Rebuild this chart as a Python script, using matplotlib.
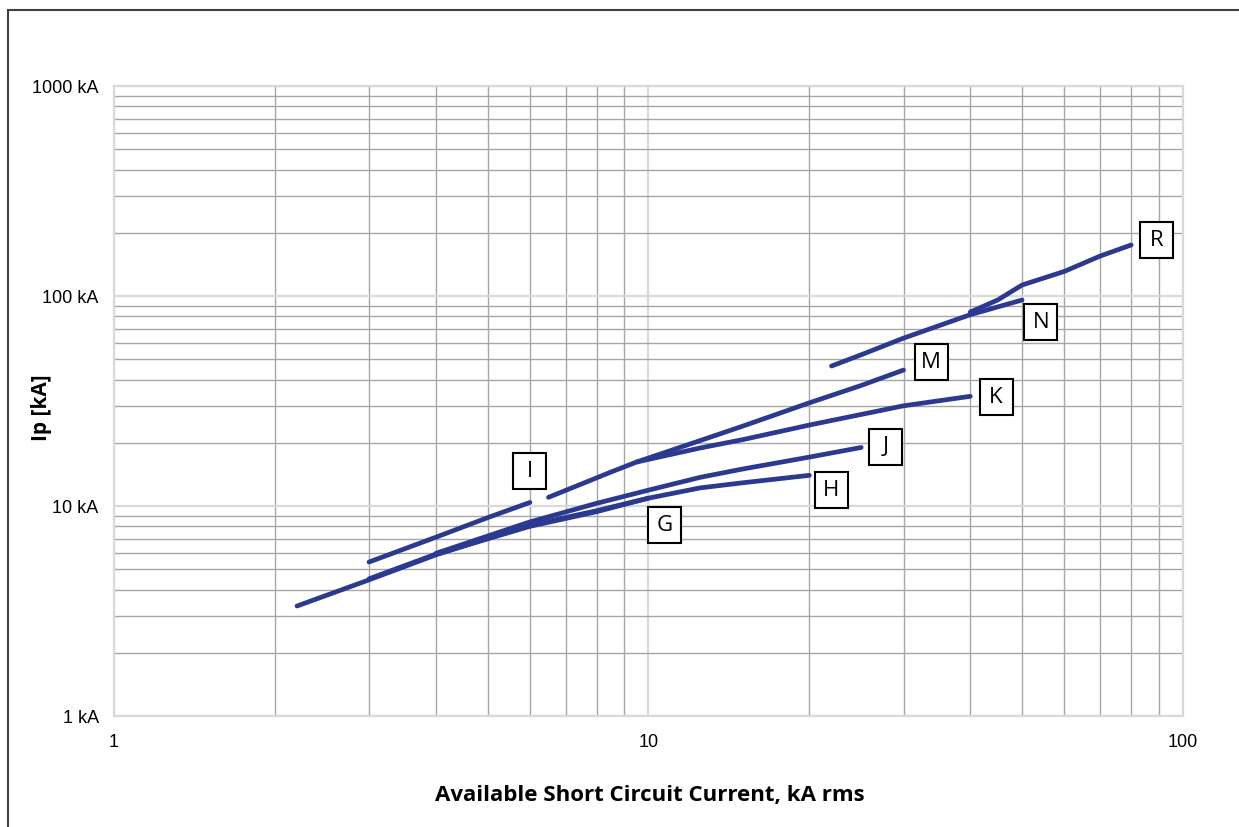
import numpy as np
import matplotlib.pyplot as plt
from matplotlib.patches import Rectangle
from matplotlib.ticker import FixedLocator, NullFormatter

# peak let-through current curves, (available kA rms, Ip kA)
g_x = [2.2, 3, 4, 6, 8, 10]
g_y = [3.34, 4.45, 5.85, 8.1, 9.5, 10.9]
h_x = [3, 4, 6, 8, 10, 12.5, 15, 20]
h_y = [4.5, 5.9, 8.0, 9.4, 10.9, 12.2, 12.9, 14.0]
i_x = [3, 4, 5, 6]
i_y = [5.41, 7.1, 8.8, 10.4]
j_x = [4, 6, 8, 10, 12.5, 15, 20, 25]
j_y = [5.95, 8.4, 10.3, 11.9, 13.7, 15.0, 17.1, 19.0]
k_x = [9.5, 12.5, 15, 20, 30, 40]
k_y = [16.2, 18.9, 20.7, 24.3, 30.0, 33.3]
m_x = [6.5, 8.5, 9.5, 12.5, 15, 20, 25, 30]
m_y = [11.0, 14.5, 16.2, 20.5, 24.0, 31.0, 37.5, 44.4]
n_x = [22, 25, 30, 40, 50]
n_y = [46.4, 52.5, 63.0, 81.5, 95.7]
r_x = [40, 45, 50, 60, 70, 80]
r_y = [83.9, 95.7, 112.8, 131, 155, 175]

curves = [(g_x, g_y), (h_x, h_y), (i_x, i_y), (j_x, j_y),
          (k_x, k_y), (m_x, m_y), (n_x, n_y), (r_x, r_y)]

# where the letter boxes sit (data coords)
label_names = ['I', 'G', 'M', 'K', 'J', 'H', 'N', 'R']
label_pos = [(5.99, 14.6), (10.7, 8.12), (33.8, 48.5), (44.7, 33.0),
             (27.8, 19.1), (22.0, 11.9), (54.2, 75.2), (89.4, 184.8)]

x_ticks = [1, 10, 100]
x_ticklabels = ['1', '10', '100']
y_ticks = [1, 10, 100, 1000]
y_ticklabels = ['1 kA', '10 kA', '100 kA', '1000 kA']

line_color = '#2b3990'

fig = plt.figure(figsize=(12.39, 8.27), dpi=100)
ax = fig.add_axes([0.0920, 0.1342, 0.8628, 0.7618])
ax.set_xscale('log')
ax.set_yscale('log')
ax.set_xlim(1, 100)
ax.set_ylim(1, 1000)

minor = [m * 10 ** e for e in range(0, 3) for m in range(2, 10)]
ax.set_xticks(x_ticks)
ax.set_xticklabels(x_ticklabels)
ax.set_yticks(y_ticks)
ax.set_yticklabels(y_ticklabels)
ax.xaxis.set_minor_locator(FixedLocator([v for v in minor if v < 100]))
ax.yaxis.set_minor_locator(FixedLocator(minor))
ax.xaxis.set_minor_formatter(NullFormatter())
ax.yaxis.set_minor_formatter(NullFormatter())

ax.grid(which='major', color='#d9d9d9', lw=1.6)
ax.grid(which='minor', color='#a6a6a6', lw=1.0)
ax.set_axisbelow(True)
for s in ax.spines.values():
    s.set_color('#d9d9d9')
    s.set_linewidth(1.6)

ax.tick_params(which='both', length=0)
ax.tick_params(axis='x', pad=13)
ax.tick_params(axis='y', pad=11)
for t in ax.get_xticklabels() + ax.get_yticklabels():
    t.set_fontfamily('Liberation Sans')
    t.set_fontsize(13)

for cx, cy in curves:
    ax.plot(cx, cy, color=line_color, lw=3.4, solid_capstyle='round',
            solid_joinstyle='round', zorder=3)

# boxes 33x36 px around each letter
fw = 10 ** (16.5 / 534.5)
fh = 10 ** (18.0 / 210.0)
for name, (lx, ly) in zip(label_names, label_pos):
    ax.add_patch(Rectangle((lx / fw, ly / fh), lx * fw - lx / fw, ly * fh - ly / fh,
                           fc='white', ec='black', lw=1.5, zorder=4))
    ax.text(lx, ly, name, ha='center', va='center', fontsize=16,
            family='Open Sans', zorder=5)

fig.text(650 / 1239, 1 - 795 / 827, 'Available Short Circuit Current, kA rms',
         ha='center', va='center', fontsize=16, fontweight='bold', family='Open Sans')
fig.text(42 / 1239, 1 - 408 / 827, 'Ip [kA]', ha='center', va='center',
         rotation=90, fontsize=15, fontweight='bold', family='Open Sans')

# outer frame, open to the right and bottom edges
fig.patches.append(Rectangle((8 / 1239, -0.1), 1.2, 1.1 - 10 / 827,
                             transform=fig.transFigure, fill=False,
                             ec='#404040', lw=1.5))

fig.savefig('out.png', dpi=100)
